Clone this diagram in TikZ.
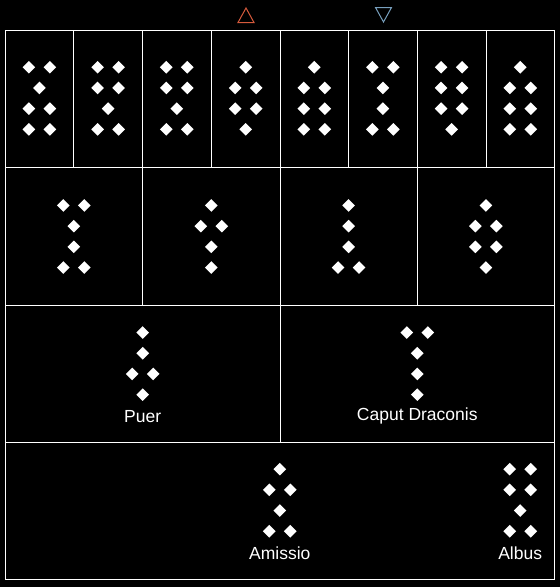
\documentclass[tikz,border=0pt]{standalone}
\usepackage{fontspec}
\setmainfont{Liberation Sans}
\usetikzlibrary{shapes.geometric}
\definecolor{tri red}{RGB}{214,90,60}
\definecolor{tri blue}{RGB}{120,160,190}
\tikzset{
  dia/.style={diamond,fill=white,draw=none,inner sep=0pt,minimum width=12.8pt,minimum height=12.8pt},
  frame/.style={draw=white,line width=1pt},
  lbl/.style={text=white,font=\fontsize{17.5}{20}\selectfont,inner sep=0pt,anchor=center}
}
\newcommand\geofig[6]{%
  \foreach \n [count=\i] in {#3,#4,#5,#6} {%
    \pgfmathsetmacro\yy{#2+(\i-2.5)*20.7}%
    \ifnum\n=1
      \node[dia] at (#1,\yy) {};
    \else
      \node[dia] at (#1-10.5,\yy) {};
      \node[dia] at (#1+10.5,\yy) {};
    \fi
  }%
}
\begin{document}
\begin{tikzpicture}[x=1pt,y=-1pt]
\fill[black] (0,0) rectangle (560,587);
\useasboundingbox (0,0) rectangle (560,587);
% triangles
\draw[tri red,line width=1pt,line join=miter] (238,22.5) -- (254,22.5) -- (246,8) -- cycle;
\draw[tri blue,line width=1pt,line join=miter] (375.5,7.5) -- (391.5,7.5) -- (383.5,22) -- cycle;
% frame
\draw[frame] (5.5,30.5) rectangle (554.5,579);
\draw[frame] (5.5,167.5) -- (554.5,167.5);
\draw[frame] (5.5,305) -- (554.5,305);
\draw[frame] (5.5,442) -- (554.5,442);
\foreach \xx in {73.8,142.5,211.3,280,348.4,417.3,486.1}
  \draw[frame] (\xx,30.5) -- (\xx,167.5);
\foreach \xx in {142.5,280,417.3}
  \draw[frame] (\xx,167.5) -- (\xx,305);
\draw[frame] (280,305) -- (280,442);
% top row
\geofig{39.4}{98.3}{2}{1}{2}{2}
\geofig{108.1}{98.3}{2}{2}{1}{2}
\geofig{176.8}{98.3}{2}{2}{1}{2}
\geofig{245.7}{98.3}{1}{2}{2}{1}
\geofig{314.3}{98.3}{1}{2}{2}{2}
\geofig{382.9}{98.3}{2}{1}{1}{2}
\geofig{451.6}{98.3}{2}{2}{2}{1}
\geofig{520.3}{98.3}{1}{2}{2}{2}
% second row
\geofig{73.8}{236.5}{2}{1}{1}{2}
\geofig{211.3}{236.5}{1}{2}{1}{1}
\geofig{348.6}{236.5}{1}{1}{1}{2}
\geofig{485.9}{236.5}{1}{2}{2}{1}
% third row
\geofig{142.7}{363.6}{1}{1}{2}{1}
\node[lbl] (puer) at (142.7,416.3) {Puer};
\geofig{417.3}{363.6}{2}{1}{1}{1}
\node[lbl] (caput) at (417.3,416.3) {Caput Draconis};
% bottom row
\geofig{279.8}{500.2}{1}{2}{1}{2}
\node[lbl] (amissio) at (279.8,553) {Amissio};
\geofig{520.2}{500.2}{2}{2}{1}{2}
\node[lbl] (albus) at (520.2,553) {Albus};
\end{tikzpicture}
\end{document}
